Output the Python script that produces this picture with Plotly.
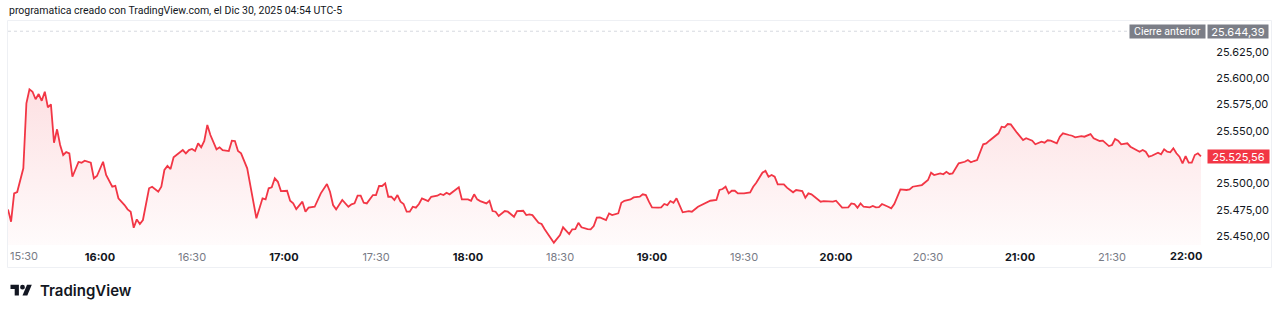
import pandas as pd
import plotly.graph_objects as go

# ---------------- data ----------------
session_open = "2025-12-29 15:30"
# minutes after the 15:30 open for each point
bar_minute = [
    0, 1, 2, 3, 5, 6, 7, 8, 9, 10, 11, 12, 13, 14, 15, 16, 17, 18, 19, 20,
    21, 22, 23, 24, 25, 27, 28, 29, 31, 32, 34, 35, 36, 38, 39, 40, 41, 42, 43, 44,
    46, 47, 49, 50, 51, 52, 53, 54, 56, 57, 58, 59, 60, 61, 62, 63, 64, 65, 66, 68,
    69, 70, 72, 73, 74, 75, 76, 78, 81, 83, 84, 85, 86, 87, 88, 89, 91, 92, 93, 94,
    96, 97, 98, 100, 102, 104, 105, 106, 107, 109, 111, 112, 113, 114, 115, 116, 117, 119, 120, 121,
    122, 123, 124, 125, 126, 127, 128, 129, 130, 131, 132, 133, 134, 135, 137, 138, 140, 141, 142, 143,
    144, 145, 147, 148, 150, 151, 152, 153, 154, 156, 157, 158, 159, 160, 162, 163, 165, 166, 168, 169,
    170, 171, 173, 174, 175, 178, 179, 180, 181, 183, 184, 185, 186, 187, 189, 190, 191, 192, 193, 195,
    196, 197, 199, 200, 201, 203, 204, 206, 207, 208, 209, 210, 212, 213, 214, 215, 216, 217, 218, 220,
    222, 223, 225, 226, 228, 229, 231, 232, 233, 234, 235, 236, 237, 238, 240, 242, 243, 244, 246, 247,
    248, 249, 250, 251, 253, 254, 256, 257, 259, 260, 261, 262, 265, 266, 269, 270, 272, 274, 275, 276,
    277, 278, 279, 281, 282, 283, 284, 285, 287, 288, 289, 291, 293, 294, 295, 297, 298, 300, 301, 302,
    304, 305, 306, 307, 308, 310, 312, 313, 314, 315, 316, 318, 319, 320, 322, 323, 324, 325, 326, 327,
    329, 331, 332, 334, 335, 337, 338, 339, 340, 342, 343, 344, 346, 347, 348, 350, 351, 353, 354, 356,
    357, 359, 360, 361, 362, 363, 365, 366, 369, 370, 371, 372, 373, 375, 376, 377, 378, 379, 380, 381,
    382, 383, 384, 385, 386, 387, 388, 389,
]
price = [
    25475.3, 25463.6, 25490.5, 25491.8, 25514.3, 25576.0, 25589.3, 25587.0, 25579.8, 25584.8,
    25578.4, 25587.0, 25572.2, 25575.0, 25538.6, 25551.3, 25536.4, 25526.9, 25529.7, 25528.5,
    25506.3, 25512.7, 25520.3, 25519.6, 25521.5, 25519.6, 25504.8, 25507.0, 25520.5, 25507.9,
    25496.8, 25497.7, 25485.8, 25479.4, 25475.3, 25473.1, 25457.9, 25465.8, 25461.4, 25465.2,
    25495.3, 25496.8, 25492.1, 25496.8, 25512.7, 25516.5, 25513.6, 25524.7, 25529.1, 25531.6,
    25528.5, 25531.6, 25532.6, 25530.7, 25538.0, 25534.2, 25540.2, 25555.4, 25545.9, 25532.3,
    25534.2, 25531.6, 25530.7, 25540.5, 25540.2, 25530.7, 25528.5, 25514.3, 25466.8, 25485.8,
    25484.8, 25495.3, 25496.2, 25504.8, 25501.5, 25492.7, 25493.0, 25483.5, 25481.0, 25475.6,
    25482.6, 25473.1, 25476.9, 25477.8, 25490.5, 25499.4, 25492.1, 25479.4, 25475.3, 25484.2,
    25477.8, 25480.1, 25481.0, 25488.3, 25488.3, 25481.6, 25481.0, 25488.9, 25488.9, 25497.5,
    25497.5, 25500.0, 25487.3, 25487.3, 25484.2, 25488.9, 25482.6, 25480.4, 25473.1, 25473.1,
    25477.8, 25476.9, 25480.4, 25485.8, 25483.2, 25487.3, 25488.3, 25489.9, 25488.9, 25491.1,
    25489.6, 25492.1, 25496.2, 25484.8, 25484.8, 25483.5, 25489.6, 25484.8, 25483.2, 25481.0,
    25483.5, 25473.7, 25473.1, 25469.0, 25473.7, 25473.1, 25468.3, 25473.7, 25474.0, 25469.9,
    25470.6, 25469.9, 25462.6, 25461.4, 25456.4, 25443.7, 25446.9, 25450.9, 25458.3, 25451.9,
    25456.4, 25456.6, 25462.6, 25458.3, 25456.6, 25456.4, 25459.5, 25467.4, 25467.7, 25465.2,
    25471.5, 25469.9, 25471.5, 25481.6, 25483.5, 25484.8, 25486.7, 25487.3, 25489.6, 25488.9,
    25482.6, 25477.2, 25476.9, 25477.2, 25480.4, 25479.4, 25483.2, 25481.6, 25485.8, 25472.5,
    25473.7, 25473.1, 25477.8, 25479.4, 25482.6, 25483.5, 25484.2, 25493.7, 25494.6, 25496.8,
    25490.5, 25493.0, 25493.0, 25490.5, 25490.5, 25491.5, 25496.8, 25500.6, 25510.1, 25512.0,
    25506.3, 25507.9, 25506.3, 25499.1, 25499.1, 25495.9, 25491.5, 25493.7, 25492.7, 25486.4,
    25490.5, 25489.6, 25482.6, 25483.2, 25482.6, 25483.5, 25476.9, 25477.2, 25481.0, 25480.4,
    25476.9, 25481.0, 25477.8, 25477.2, 25478.5, 25477.2, 25477.5, 25480.4, 25477.8, 25476.3,
    25480.4, 25494.3, 25493.7, 25494.3, 25496.8, 25497.5, 25498.4, 25503.2, 25510.1, 25507.9,
    25509.5, 25508.6, 25511.0, 25508.9, 25509.5, 25519.0, 25520.5, 25522.1, 25520.0, 25521.2,
    25522.1, 25537.1, 25538.0, 25540.5, 25545.2, 25547.5, 25553.8, 25553.2, 25556.3, 25556.0,
    25548.1, 25541.1, 25542.8, 25540.5, 25537.1, 25539.5, 25538.6, 25540.9, 25540.5, 25538.0,
    25544.3, 25547.5, 25545.9, 25545.2, 25543.7, 25544.9, 25544.3, 25546.8, 25542.8, 25540.2,
    25540.5, 25535.4, 25536.4, 25542.1, 25540.5, 25537.1, 25538.0, 25534.8, 25530.0, 25531.6,
    25530.0, 25525.3, 25526.2, 25529.1, 25527.6, 25532.3, 25530.0, 25529.5, 25533.3, 25528.5,
    25525.3, 25519.0, 25525.9, 25519.6, 25519.6, 25526.9, 25528.5, 25525.56,
]
previous_close = 25644.39
price_ticks = [25450, 25475, 25500, 25550, 25575, 25600, 25625]
time_ticks = ["16:00", "16:30", "17:00", "17:30", "18:00", "18:30",
              "19:00", "19:30", "20:00", "20:30", "21:00", "21:30"]
edge_time_labels = ["15:30", "22:00"]
title_text = "programatica creado con TradingView.com, el Dic 30, 2025 04:54 UTC-5"

# ---------------- build ----------------
RED = "#f23645"
DARK = "#131722"
GREY = "#787b86"
FONT = "Inter"
FONT2 = "Roboto"
W, H = 1280, 314
L, R, T, B = 8, 74, 21, 69
PW, PH = W - L - R, H - T - B

day = session_open[:10]
times = pd.Timestamp(session_open) + pd.to_timedelta(bar_minute, unit="min")
x_start = pd.Timestamp(session_open)
x_end = pd.Timestamp(f"{day} 22:00:39")


def fmt(v):
    s = f"{v:,.2f}"
    return s.replace(",", "X").replace(".", ",").replace("X", ".")


def px(x):
    return (x - L) / PW


def py(y):
    return (H - B - y) / PH


fig = go.Figure()
fig.add_trace(go.Scatter(
    x=times, y=price, mode="lines",
    line=dict(color=RED, width=1.8),
    fill="tozeroy",
    fillgradient=dict(
        type="vertical",
        start=25441.5, stop=25654,
        colorscale=[[0, "rgba(242,54,69,0.02)"], [1, "rgba(242,54,69,0.21)"]],
    ),
    hoverinfo="skip", showlegend=False,
))

ticktext = []
for t in time_ticks:
    if t.endswith(":00"):
        ticktext.append(f"<b>{t}</b>")
    else:
        ticktext.append(f'<span style="color:{GREY}">{t}</span>')

shapes = [
    # frame
    dict(type="rect", xref="paper", yref="paper",
         x0=px(7.5), x1=px(1271.5), y0=py(267.5), y1=py(20.5),
         line=dict(color="#eef0f4", width=1), fillcolor="rgba(0,0,0,0)", layer="below"),
    # previous close dotted line
    dict(type="line", xref="paper", yref="y", x0=0, x1=1,
         y0=previous_close, y1=previous_close,
         line=dict(color="#d6d9df", width=1, dash="dot")),
]

# TradingView logo (icon)
s = 0.6
ox, oy = 10.5, 282.4


def P(a, b):
    return f"{px(ox + a * s):.6f},{py(oy + b * s):.6f}"


t_path = f"M{P(0,4)} L{P(14,4)} L{P(14,22)} L{P(7,22)} L{P(7,11)} L{P(0,11)} Z"
slash_path = f"M{P(20,22)} L{P(28,22)} L{P(35.5,4)} L{P(27.5,4)} Z"
shapes.append(dict(type="path", xref="paper", yref="paper", path=t_path,
                   fillcolor=DARK, line=dict(width=0)))
shapes.append(dict(type="path", xref="paper", yref="paper", path=slash_path,
                   fillcolor=DARK, line=dict(width=0)))
shapes.append(dict(type="circle", xref="paper", yref="paper",
                   x0=px(ox + 16 * s), x1=px(ox + 24 * s),
                   y0=py(oy + 12 * s), y1=py(oy + 4 * s),
                   fillcolor=DARK, line=dict(width=0)))

annotations = [
    dict(text=title_text, xref="paper", yref="paper", x=px(7), y=py(10),
         xanchor="left", yanchor="middle", showarrow=False,
         font=dict(family=FONT2, size=10.5, color=DARK)),
    dict(text="TradingView", xref="paper", yref="paper", x=px(38), y=py(290),
         xanchor="left", yanchor="middle", showarrow=False,
         font=dict(family=FONT, size=15, color=DARK, weight=600)),
    # previous close labels
    dict(text="Cierre anterior", xref="paper", yref="y", x=1, y=previous_close,
         xanchor="right", yanchor="middle", showarrow=False, width=75, height=13,
         borderpad=0, bgcolor="#7b7e87", font=dict(family=FONT2, size=10.5, color="white")),
    dict(text=fmt(previous_close), xref="paper", yref="y", x=1, y=previous_close,
         xanchor="left", yanchor="middle", showarrow=False, width=60, height=13, xshift=1,
         borderpad=0, bgcolor="#7b7e87", font=dict(family=FONT, size=11, color="white")),
    # last price label
    dict(text=fmt(price[-1]), xref="paper", yref="y", x=1, y=price[-1],
         xanchor="left", yanchor="middle", showarrow=False, width=61, height=13, xshift=1,
         borderpad=0, bgcolor=RED, font=dict(family=FONT, size=11, color="white")),
    # edge time labels
    dict(text=f'<span style="color:{GREY}">{edge_time_labels[0]}</span>', xref="x", yref="paper",
         x=x_start, y=0, xanchor="left", yanchor="top", yshift=-2, showarrow=False,
         font=dict(family=FONT, size=11, color=DARK)),
    dict(text=f"<b>{edge_time_labels[1]}</b>", xref="x", yref="paper",
         x=pd.Timestamp(f"{day} {edge_time_labels[1]}"), y=0, xanchor="right", yanchor="top",
         yshift=-2, showarrow=False, font=dict(family=FONT, size=11, color=DARK)),
]

fig.update_layout(
    width=W, height=H,
    margin=dict(l=L, r=R, t=T, b=B),
    paper_bgcolor="white", plot_bgcolor="white",
    separators=",.",
    font=dict(family=FONT, size=11, color=DARK),
    xaxis=dict(
        type="date", range=[x_start, x_end],
        tickvals=[pd.Timestamp(f"{day} {t}") for t in time_ticks],
        ticktext=ticktext,
        showgrid=False, zeroline=False, showline=False,
        ticks="outside", ticklen=2, tickcolor="rgba(0,0,0,0)",
        tickfont=dict(family=FONT, size=11, color=DARK),
        fixedrange=True,
    ),
    yaxis=dict(
        side="right", range=[25441.5, 25654.1],
        tickvals=price_ticks, tickformat=",.2f",
        showgrid=False, zeroline=False, showline=False,
        ticks="outside", ticklen=7, tickcolor="rgba(0,0,0,0)",
        tickfont=dict(family=FONT, size=11, color=DARK),
        fixedrange=True,
    ),
    shapes=shapes,
    annotations=annotations,
    showlegend=False,
)

fig.write_html("out.html")
